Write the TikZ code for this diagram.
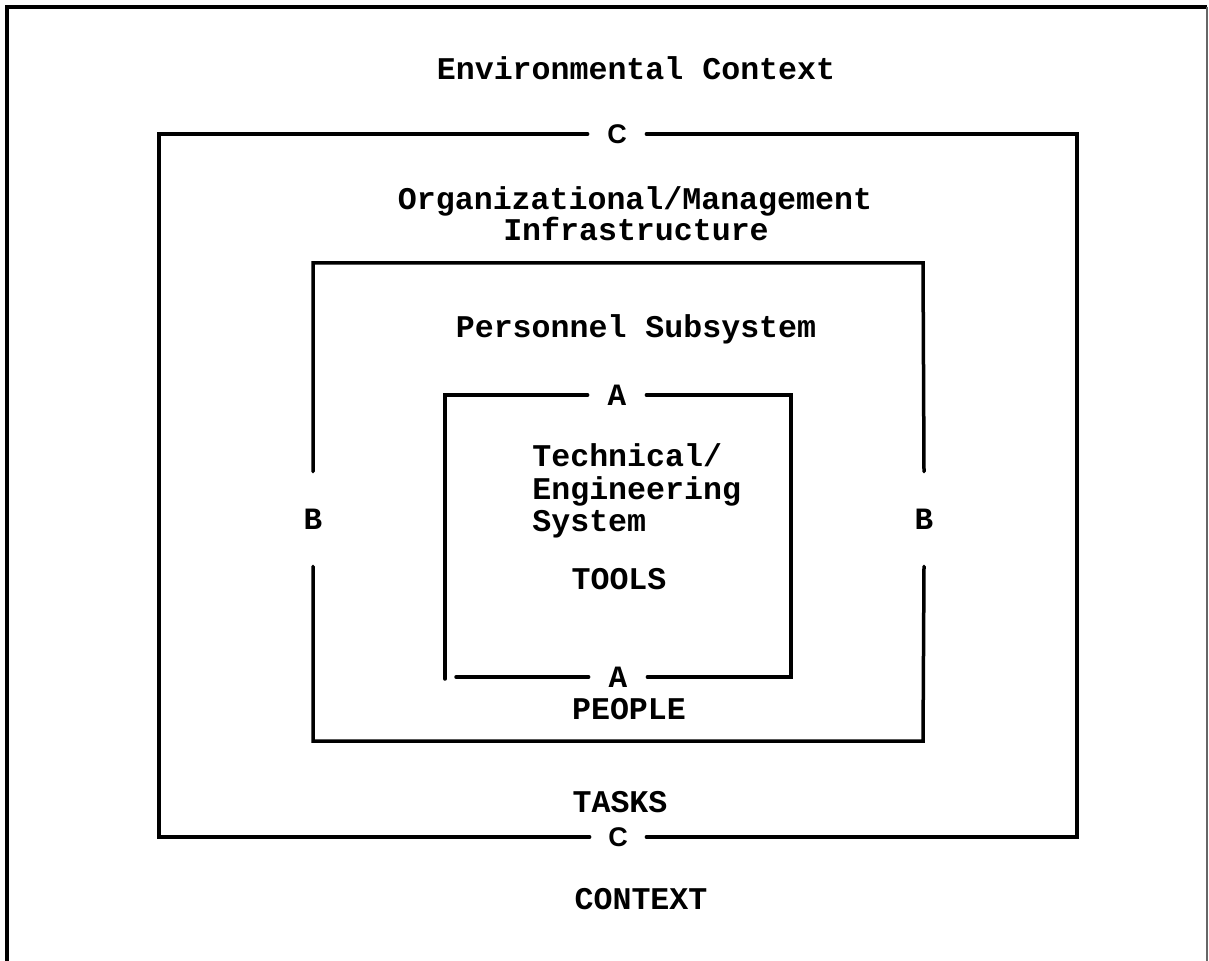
\documentclass[tikz,border=0pt]{standalone}
\usepackage{fontspec}
\setmainfont{Liberation Serif}
\newfontfamily\typewriter{Liberation Mono}
\newfontfamily\plainsans{Liberation Sans}

\begin{document}
\begin{tikzpicture}[x=0.5pt,y=-0.5pt,
  frame/.style={line width=1.75pt, line cap=round, line join=miter},
  outerframe/.style={line width=2pt, line join=miter},
  heading/.style={inner sep=0pt, anchor=base, font=\typewriter\bfseries\fontsize{15.8}{16}\selectfont},
  letterlab/.style={font=\typewriter\bfseries\fontsize{15.5}{16}\selectfont, inner sep=0pt},
  cletter/.style={font=\plainsans\bfseries\fontsize{13.5}{14}\selectfont, inner sep=0pt}]

\useasboundingbox (0,0) rectangle (1209,961);

% page frame (open at the bottom)
\coordinate (pgbl) at (7,961);
\coordinate (pgtl) at (7,7);
\coordinate (pgtr) at (1207,7);
\coordinate (pgbr) at (1207,961);
\draw[outerframe] (pgbl) -- (pgtl) -- (pgtr);
\draw[line width=1pt, black!60] (pgtr) -- (pgbr);

% headings (positioned by baseline)
\node[heading] (env) at (636,80) {Environmental Context};
\node[heading] (org1) at (635,210) {Organizational/Management};
\node[heading] (org2) at (636,241) {Infrastructure};
\node[heading] (pers) at (636,338) {Personnel Subsystem};
\node[heading, anchor=base west] (tech1) at (532,467) {Technical/};
\node[heading, anchor=base west] (tech2) at (532,500) {Engineering};
\node[heading, anchor=base west] (tech3) at (532,532) {System};

\node[heading] (tools) at (619,590) {TOOLS};
\node[heading] (people) at (629,719) {PEOPLE};
\node[heading] (tasks) at (620,812) {TASKS};
\node[heading] (context) at (641,909) {CONTEXT};

% C frame: contexts
\node[cletter, minimum width=29pt] (ctop) at (617,134) {C};
\node[cletter, minimum width=28pt] (cbot) at (618,837) {C};
\coordinate (ctl) at (159,134);
\coordinate (ctr) at (1077,134);
\coordinate (cbl) at (159,837);
\coordinate (cbr) at (1077,837);
\draw[frame] (ctop.west) -- (ctl) -- (cbl) -- (cbot.west);
\draw[frame] (ctop.east) -- (ctr) -- (cbr) -- (cbot.east);

% B frame: personnel subsystem
\node[letterlab, minimum height=47pt] (bleft) at (313,519) {B};
\node[letterlab, minimum height=47pt] (bright) at (924,519) {B};
\coordinate (btl) at (313,263);
\coordinate (btr) at (923,263);
\coordinate (bbl) at (313,741);
\coordinate (bbr) at (923,741);
\draw[frame] (bleft.north) -- (btl) -- (btr) -- (bright.north);
\draw[frame] (bleft.south) -- (bbl) -- (bbr) -- (bright.south);

% A frame: technical system
\node[letterlab, minimum width=29pt] (atop) at (617,395) {A};
\node[letterlab, minimum width=29pt] (abot) at (618,677) {A};
\coordinate (atl) at (445,395);
\coordinate (atr) at (791,395);
\coordinate (abl) at (445,679);
\coordinate (ablb) at (456,677);
\coordinate (abr) at (791,677);
\draw[frame] (atop.west) -- (atl) -- (abl);
\draw[frame] (ablb) -- (abot.west);
\draw[frame] (atop.east) -- (atr) -- (abr) -- (abot.east);

\end{tikzpicture}
\end{document}
